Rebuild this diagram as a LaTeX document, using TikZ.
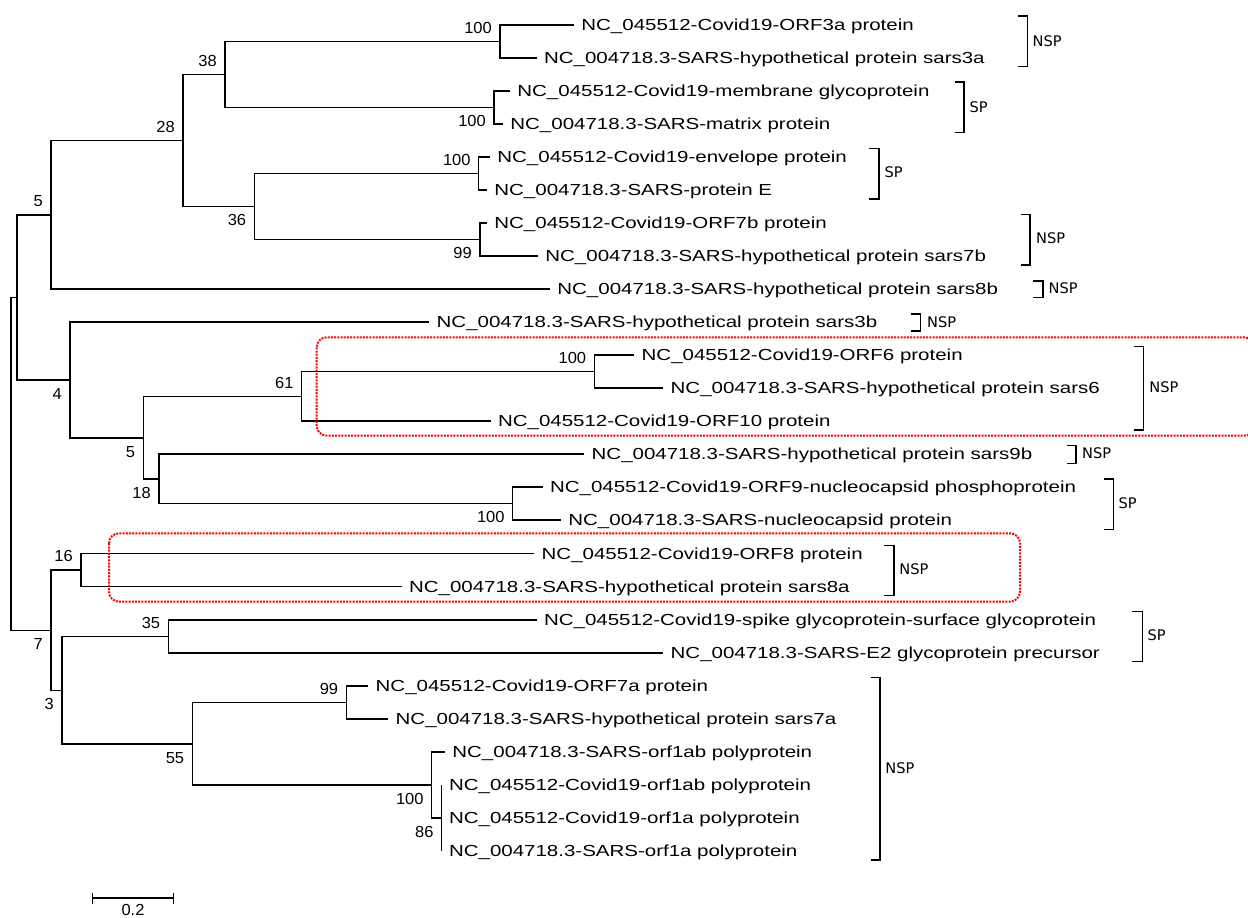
\documentclass[tikz,border=0pt]{standalone}
\usepackage{fontspec}
\newfontfamily\leaffont[FakeStretch=1.28]{Liberation Sans}
\newfontfamily\bsfont[FakeStretch=1.03]{Liberation Sans}
\newfontfamily\grpfont{DejaVu Sans}

\begin{document}
\begin{tikzpicture}[
    x=0.5pt, y=-0.5pt,
    label distance=5.5pt,
    br/.style={line width=0.75pt},
    leaf/.style={anchor=west, inner xsep=3.5pt, inner ysep=0pt, text height=5.9pt, text depth=0pt,
      font=\leaffont\fontsize{8}{9}\selectfont},
    bs/.style={inner sep=0pt, font=\bsfont\fontsize{8}{9}\selectfont},
    grp/.style={anchor=west, inner sep=0pt, font=\grpfont\fontsize{7.3}{8}\selectfont},
    brk/.style={line width=0.75pt},
    hilite/.style={draw=red, line width=1pt, dash pattern=on 1pt off 0.6pt, rounded corners=5pt}
  ]
  \clip (0,0) rectangle (1248,917);

  % leaves
  \node (l1) [leaf] at (574,25) {NC\_045512-Covid19-ORF3a protein};
  \node (l2) [leaf] at (536.7,58) {NC\_004718.3-SARS-hypothetical protein sars3a};
  \node (l3) [leaf] at (510,91) {NC\_045512-Covid19-membrane glycoprotein};
  \node (l4) [leaf] at (503,124) {NC\_004718.3-SARS-matrix protein};
  \node (l5) [leaf] at (490,157) {NC\_045512-Covid19-envelope protein};
  \node (l6) [leaf] at (487,190) {NC\_004718.3-SARS-protein E};
  \node (l7) [leaf] at (487,223) {NC\_045512-Covid19-ORF7b protein};
  \node (l8) [leaf] at (538,256) {NC\_004718.3-SARS-hypothetical protein sars7b};
  \node (l9) [leaf] at (550,289) {NC\_004718.3-SARS-hypothetical protein sars8b};
  \node (l10) [leaf] at (429.3,322) {NC\_004718.3-SARS-hypothetical protein sars3b};
  \node (l11) [leaf] at (634.3,355) {NC\_045512-Covid19-ORF6 protein};
  \node (l12) [leaf] at (663.3,388) {NC\_004718.3-SARS-hypothetical protein sars6};
  \node (l13) [leaf] at (490.7,421) {NC\_045512-Covid19-ORF10 protein};
  \node (l14) [leaf] at (584.3,454) {NC\_004718.3-SARS-hypothetical protein sars9b};
  \node (l15) [leaf] at (542.7,487) {NC\_045512-Covid19-ORF9-nucleocapsid phosphoprotein};
  \node (l16) [leaf] at (561,520) {NC\_004718.3-SARS-nucleocapsid protein};
  \node (l17) [leaf] at (534.3,553.5) {NC\_045512-Covid19-ORF8 protein};
  \node (l18) [leaf] at (401.7,586.5) {NC\_004718.3-SARS-hypothetical protein sars8a};
  \node (l19) [leaf] at (536.7,620) {NC\_045512-Covid19-spike glycoprotein-surface glycoprotein};
  \node (l20) [leaf] at (663.3,653) {NC\_004718.3-SARS-E2 glycoprotein precursor};
  \node (l21) [leaf] at (368.3,686) {NC\_045512-Covid19-ORF7a protein};
  \node (l22) [leaf] at (388.3,719) {NC\_004718.3-SARS-hypothetical protein sars7a};
  \node (l23) [leaf] at (445,752) {NC\_004718.3-SARS-orf1ab polyprotein};
  \node (l24) [leaf] at (441.7,785) {NC\_045512-Covid19-orf1ab polyprotein};
  \node (l25) [leaf] at (441.7,818) {NC\_045512-Covid19-orf1a polyprotein};
  \node (l26) [leaf] at (441.7,851) {NC\_004718.3-SARS-orf1a polyprotein};

  % inner nodes with bootstrap values
  \coordinate [label={[bs]above left:100}] (a100) at (500,41.5);
  \coordinate [label={[bs]below left:100}] (b100) at (494,107.5);
  \coordinate [label={[bs]above left:38}] (n38) at (225,74.5);
  \coordinate [label={[bs]above left:100}] (c100) at (478.7,173.5);
  \coordinate [label={[bs]below left:99}] (d99) at (480,239.5);
  \coordinate [label={[bs]below left:36}] (n36) at (254.3,206.5);
  \coordinate [label={[bs]above left:28}] (n28) at (183,140.5);
  \coordinate [label={[bs]above left:5}] (n5a) at (51,215);
  \coordinate [label={[bs]above left:100}] (e100) at (594.3,371.5);
  \coordinate [label={[bs]above left:61}] (n61) at (301.7,396.5);
  \coordinate [label={[bs]below left:100}] (f100) at (512.7,503.5);
  \coordinate [label={[bs]below left:18}] (n18) at (159,479);
  \coordinate [label={[bs]below left:5}] (n5b) at (143.3,438);
  \coordinate [label={[bs]below left:4}] (n4) at (70,380);
  \coordinate (nA) at (17,297.5);
  \coordinate [label={[bs]above left:16}] (n16) at (81,570);
  \coordinate [label={[bs]above left:35}] (n35) at (168.3,636.5);
  \coordinate [label={[bs]above left:99}] (g99) at (346.3,702.5);
  \coordinate [label={[bs]below left:86}] (n86) at (441.7,818);
  \coordinate [label={[bs]below left:100}] (h100) at (431.7,785);
  \coordinate [label={[bs]below left:55}] (n55) at (192.3,744);
  \coordinate [label={[bs]below left:3}] (n3) at (62,690.3);
  \coordinate [label={[bs]below left:7}] (n7) at (51,630.3);
  \coordinate (root) at (11,464);

  % branches
  \draw[br] (a100) |- (l1.west);
  \draw[br] (a100) |- (l2.west);
  \draw[br] (b100) |- (l3.west);
  \draw[br] (b100) |- (l4.west);
  \draw[br] (n38) |- (a100);
  \draw[br] (n38) |- (b100);
  \draw[br] (c100) |- (l5.west);
  \draw[br] (c100) |- (l6.west);
  \draw[br] (d99) |- (l7.west);
  \draw[br] (d99) |- (l8.west);
  \draw[br] (n36) |- (c100);
  \draw[br] (n36) |- (d99);
  \draw[br] (n28) |- (n38);
  \draw[br] (n28) |- (n36);
  \draw[br] (n5a) |- (n28);
  \draw[br] (n5a) |- (l9.west);
  \draw[br] (e100) |- (l11.west);
  \draw[br] (e100) |- (l12.west);
  \draw[br] (n61) |- (e100);
  \draw[br] (n61) |- (l13.west);
  \draw[br] (f100) |- (l15.west);
  \draw[br] (f100) |- (l16.west);
  \draw[br] (n18) |- (l14.west);
  \draw[br] (n18) |- (f100);
  \draw[br] (n5b) |- (n61);
  \draw[br] (n5b) |- (n18);
  \draw[br] (n4) |- (l10.west);
  \draw[br] (n4) |- (n5b);
  \draw[br] (nA) |- (n5a);
  \draw[br] (nA) |- (n4);
  \draw[br] (n16) |- (l17.west);
  \draw[br] (n16) |- (l18.west);
  \draw[br] (n35) |- (l19.west);
  \draw[br] (n35) |- (l20.west);
  \draw[br] (g99) |- (l21.west);
  \draw[br] (g99) |- (l22.west);
  \draw[br] (n86) |- (l24.west);
  \draw[br] (n86) |- (l26.west);
  \draw[br] (h100) |- (l23.west);
  \draw[br] (h100) |- (n86);
  \draw[br] (n55) |- (g99);
  \draw[br] (n55) |- (h100);
  \draw[br] (n3) |- (n35);
  \draw[br] (n3) |- (n55);
  \draw[br] (n7) |- (n16);
  \draw[br] (n7) |- (n3);
  \draw[br] (root) |- (nA);
  \draw[br] (root) |- (n7);

  % groups
  \draw[brk] (1018.3,16) -| (1027.7,66.7) -- (1018.3,66.7);
  \node (g1) [grp] at (1032.3,40.7) {NSP};
  \draw[brk] (955,82) -| (964,132.7) -- (955,132.7);
  \node (g2) [grp] at (969.3,106.7) {SP};
  \draw[brk] (869.3,148.3) -| (879,199) -- (869.3,199);
  \node (g3) [grp] at (884.3,172.3) {SP};
  \draw[brk] (1020.7,214.3) -| (1030,265) -- (1020.7,265);
  \node (g4) [grp] at (1035.7,238.3) {NSP};
  \draw[brk] (1033.3,281) -| (1043,297.7) -- (1033.3,297.7);
  \node (g5) [grp] at (1048.3,288.3) {NSP};
  \draw[brk] (911,314) -| (920.7,331) -- (911,331);
  \node (g6) [grp] at (926.7,321.7) {NSP};
  \draw[brk] (1134,346.7) -| (1143.3,430) -- (1134,430);
  \node (g7) [grp] at (1149,387.3) {NSP};
  \draw[brk] (1066.7,445.7) -| (1076,463.3) -- (1066.7,463.3);
  \node (g8) [grp] at (1081.7,453.3) {NSP};
  \draw[brk] (1103.7,479) -| (1113.3,529.3) -- (1103.7,529.3);
  \node (g9) [grp] at (1118.3,502.7) {SP};
  \draw[brk] (884,545.3) -| (894,595.7) -- (884,595.7);
  \node (g10) [grp] at (899,569.3) {NSP};
  \draw[brk] (1132.3,611.7) -| (1142.3,661.7) -- (1132.3,661.7);
  \node (g11) [grp] at (1147.3,635) {SP};
  \draw[brk] (870.7,677.7) -| (880,860) -- (870.7,860);
  \node (g12) [grp] at (885,768.3) {NSP};

  % highlighted clades
  \draw[hilite] (316.7,337.3) rectangle (1254,435.7);
  \draw[hilite] (109,533.3) rectangle (1020,601.7);

  % scale bar
  \draw[br] (92.7,892.7) -- (92.7,904.3) (92.7,898) -- (173.3,898) (173.3,892.7) -- (173.3,904.3);
  \node (sbar) [bs, anchor=south] at (133,916) {0.2};
\end{tikzpicture}
\end{document}
